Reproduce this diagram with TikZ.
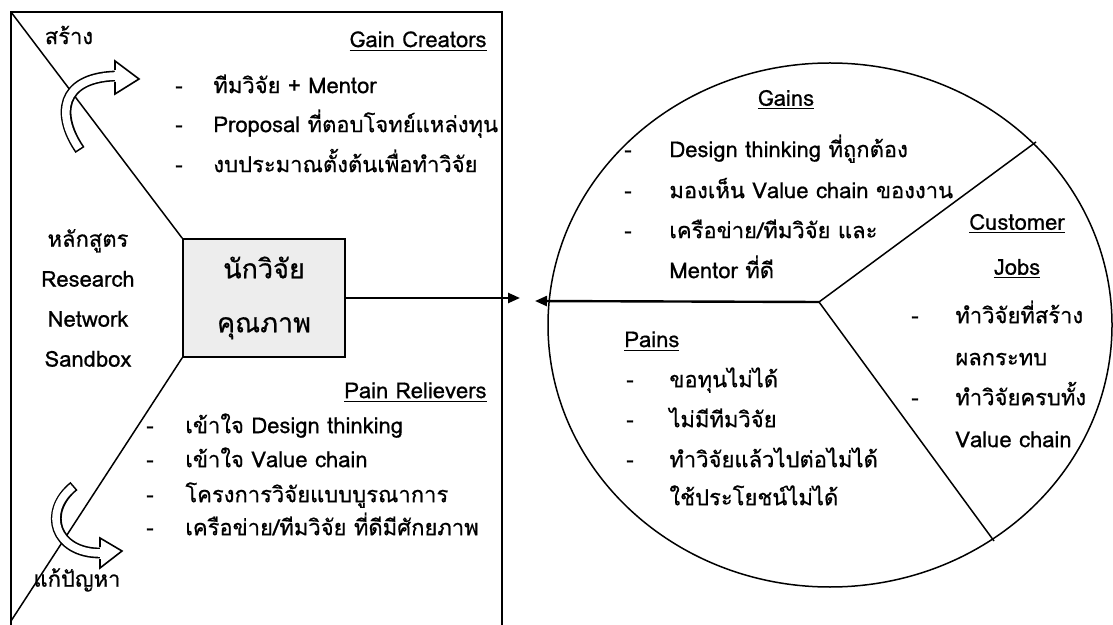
\documentclass[tikz,border=0pt]{standalone}
\usepackage{fontspec}
\setmainfont[Script=Thai, FakeBold=0.6]{Loma}
\usetikzlibrary{arrows.meta}

\begin{document}
\begin{tikzpicture}[x=0.5pt,y=-0.5pt,
  every node/.style={font=\fontsize{11}{13}\selectfont, inner sep=0pt},
  item/.style={anchor=mid west},
  dashmark/.style={anchor=mid},
  frame/.style={line width=0.75pt},
  link/.style={line width=1.2pt, -{Triangle[length=6pt,width=5pt]}},
  turnshaft/.style={line width=5.4pt},
  turnhollow/.style={line width=3.8pt, white}]

\useasboundingbox (0,0) rectangle (1113,625);

% value map
\draw[frame] (11,625) -- (11,12) -- (502,12) -- (502,625);
\node[draw, line width=0.75pt, fill=black!7, minimum width=81pt, minimum height=59pt, align=center, font=\fontsize{13.5}{27}\selectfont] (researcher) at (264,298) {นักวิจัย\\คุณภาพ};
\draw[frame] (11,12) -- (researcher.north west);
\draw[frame] (researcher.south west) -- (11,621);
\node[align=center, font=\fontsize{11}{20}\selectfont] (course) at (88,298) {หลักสูตร\\Research\\Network\\Sandbox};

\node (create) at (69,35) {สร้าง};
\node (solve) at (77,580) {แก้ปัญหา};

% curved block arrows
\draw[turnshaft] (80,150) .. controls (56,115) and (60,78) .. (115,76);
\draw[turnhollow, shorten <=0.8pt] (80,150) .. controls (56,115) and (60,78) .. (115,76);
\fill[white] (115,61) -- (139,79) -- (115,94) -- cycle;
\draw[line width=0.8pt] (115,70) -- (115,61) -- (139,79) -- (115,94) -- (115,82);
\draw[turnshaft] (74,486) .. controls (42,512) and (55,553) .. (100,553);
\draw[turnhollow, shorten <=0.8pt] (74,486) .. controls (42,512) and (55,553) .. (100,553);
\fill[white] (100,538) -- (122,551) -- (100,568) -- cycle;
\draw[line width=0.8pt] (100,547) -- (100,538) -- (122,551) -- (100,568) -- (100,559);

\node[anchor=mid east] (gaincreators) at (487,42) {\underline{Gain Creators}};
\node[dashmark] (gc1 dash) at (179,88) {-};
\node[item] (gc1) at (213,88) {ทีมวิจัย + Mentor};
\node[dashmark] (gc2 dash) at (179,127) {-};
\node[item] (gc2) at (213,127) {Proposal ที่ตอบโจทย์แหล่งทุน};
\node[dashmark] (gc3 dash) at (179,167) {-};
\node[item] (gc3) at (213,167) {งบประมาณตั้งต้นเพื่อทำวิจัย};

\node[anchor=mid east] (painrelievers) at (487,393) {\underline{Pain Relievers}};
\node[dashmark] (pr1 dash) at (150,428) {-};
\node[item] (pr1) at (185,428) {เข้าใจ Design thinking};
\node[dashmark] (pr2 dash) at (150,462) {-};
\node[item] (pr2) at (185,462) {เข้าใจ Value chain};
\node[dashmark] (pr3 dash) at (150,497) {-};
\node[item] (pr3) at (185,497) {โครงการวิจัยแบบบูรณาการ};
\node[dashmark] (pr4 dash) at (150,530) {-};
\node[item] (pr4) at (185,530) {เครือข่าย/ทีมวิจัย ที่ดีมีศักยภาพ};

% customer profile
\draw[frame] (830,325) ellipse [x radius=141pt, y radius=131pt];
\coordinate (hub) at (819,302);
\coordinate (jobs top) at (1036,142);
\coordinate (jobs bottom) at (994,541);
\coordinate (pie left) at (535,301);
\coordinate (map right) at (520,298);
\draw[frame] (jobs top) -- (hub) -- (jobs bottom);
\draw[link] (researcher.east) -- (map right);
\draw[link] (hub) -- (pie left);

\node (gains) at (786,100) {\underline{Gains}};
\node[dashmark] (ga1 dash) at (628,152) {-};
\node[item] (ga1) at (669,152) {Design thinking ที่ถูกต้อง};
\node[dashmark] (ga2 dash) at (628,193) {-};
\node[item] (ga2) at (669,193) {มองเห็น Value chain ของงาน};
\node[dashmark] (ga3 dash) at (628,233) {-};
\node[item] (ga3) at (669,233) {เครือข่าย/ทีมวิจัย และ};
\node[item] (ga4) at (669,273) {Mentor ที่ดี};

\node (customer) at (1017,224) {\underline{Customer}};
\node (jobs) at (1017,269) {\underline{Jobs}};
\node[dashmark] (cj1 dash) at (915,318) {-};
\node[item] (cj1) at (955,318) {ทำวิจัยที่สร้าง};
\node[item] (cj2) at (955,360) {ผลกระทบ};
\node[dashmark] (cj3 dash) at (915,400) {-};
\node[item] (cj3) at (955,400) {ทำวิจัยครบทั้ง};
\node[item] (cj4) at (955,442) {Value chain};

\node[item] (pains) at (624,342) {\underline{Pains}};
\node[dashmark] (pa1 dash) at (630,382) {-};
\node[item] (pa1) at (669,382) {ขอทุนไม่ได้};
\node[dashmark] (pa2 dash) at (630,422) {-};
\node[item] (pa2) at (669,422) {ไม่มีทีมวิจัย};
\node[dashmark] (pa3 dash) at (630,462) {-};
\node[item] (pa3) at (669,462) {ทำวิจัยแล้วไปต่อไม่ได้};
\node[item] (pa4) at (669,500) {ใช้ประโยชน์ไม่ได้};
\end{tikzpicture}
\end{document}
